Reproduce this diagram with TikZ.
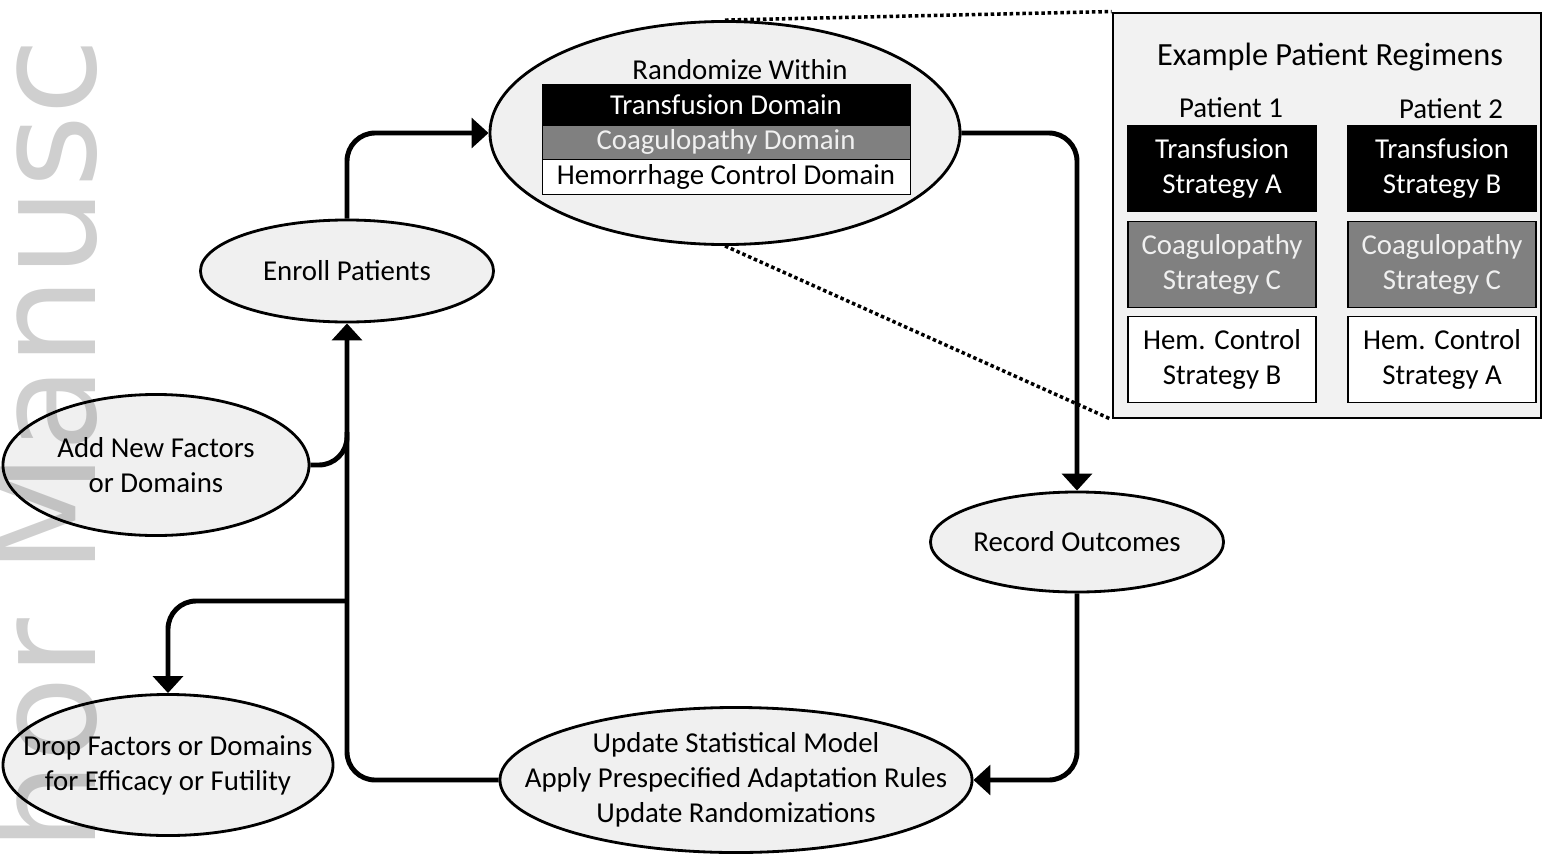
\documentclass[tikz,border=0pt]{standalone}
\usepackage{fontspec}
\setmainfont{Carlito}
\newfontfamily\wmfont{DejaVu Sans}
\usetikzlibrary{arrows.meta,shapes.geometric}

\definecolor{ellfill}{RGB}{240,240,240}
\definecolor{boxfill}{RGB}{242,242,242}
\definecolor{midgray}{RGB}{128,128,128}

\begin{document}
\begin{tikzpicture}[x=0.025cm, y=-0.025cm,
    every node/.style={font=\fontsize{20.5}{25}\selectfont},
    stage/.style={ellipse, draw, line width=2pt, fill=ellfill, inner sep=0pt},
    stagetext/.style={align=center, inner sep=0pt},
    flow/.style={line width=3.5pt, rounded corners=20pt, -{Triangle[width=21pt,length=12pt]}},
    zoomline/.style={line width=2.5pt, dash pattern=on 2.5pt off 2pt},
    domrow/.style={rectangle, draw, line width=0.6pt, minimum width=9.2cm, inner sep=0pt},
    stratbox/.style={rectangle, draw, line width=0.8pt, minimum width=4.7cm, minimum height=2.15cm, inner sep=0pt, align=center},
    darkfill/.style={fill=black, text=white},
    midfill/.style={fill=midgray, text=ellfill},
    lightfill/.style={fill=white, text=black}
    ]
    \useasboundingbox (0,0) rectangle (1543,854);
    \clip (0,0) rectangle (1543,854);

    % stages
    \node[stage, minimum width=11.75cm, minimum height=5.575cm] (rand) at (725,133) {};
    \node[stage, minimum width=7.325cm, minimum height=2.55cm] (enroll) at (347,271) {};
    \node[stagetext] (enrolltext) at (enroll) {Enroll Patients};
    \node[stage, minimum width=7.65cm, minimum height=3.525cm] (addnew) at (156,465) {};
    \node[stagetext] (addnewtext) at (addnew) {Add New Factors\\or Domains};
    \node[stage, minimum width=8.25cm, minimum height=3.525cm] (drop) at (168,765) {};
    \node[stagetext] (droptext) at (drop) {Drop Factors or Domains\\for Efficacy or Futility};
    \node[stage, minimum width=11.8cm, minimum height=3.625cm] (update) at (736,780) {};
    \node[stagetext] (updatetext) at (update) {Update Statistical Model\\Apply Prespecified Adaptation Rules\\Update Randomizations};
    \node[stage, minimum width=7.325cm, minimum height=2.5cm] (record) at (1077,542) {};
    \node[stagetext] (recordtext) at (record) {Record Outcomes};

    % domains inside the randomization step
    \node[stagetext] (within) at (740,70) {Randomize Within};
    \node[domrow, darkfill, minimum height=1.025cm] (transdom) at (726,104.5) {Transfusion Domain};
    \node[domrow, midfill, minimum height=0.85cm] (coagdom) at (726,142) {Coagulopathy Domain};
    \node[domrow, lightfill, minimum height=0.875cm] (hemdom) at (726,176.5) {Hemorrhage Control Domain};

    % zoom-out to the example regimens
    \node[rectangle, draw, line width=2pt, fill=boxfill, minimum width=10.7cm, minimum height=10.125cm, inner sep=0pt] (regbox) at (1327,215.5) {};
    \draw[zoomline] (rand.north) -- (regbox.north west);
    \draw[zoomline] (rand.south) -- (regbox.south west);
    \node[rectangle, draw, line width=2pt, fill=boxfill, minimum width=10.7cm, minimum height=10.125cm, inner sep=0pt] at (regbox) {};
    \node[font=\fontsize{23}{28}\selectfont] (regtitle) at (1330,57) {Example Patient Regimens};
    \node (pat1) at (1231,108) {Patient 1};
    \node (pat2) at (1451,109) {Patient 2};
    \node[stratbox, darkfill] (p1trans) at (1222,168.5) {Transfusion\\Strategy A};
    \node[stratbox, midfill] (p1coag) at (1222,264.5) {Coagulopathy\\Strategy C};
    \node[stratbox, lightfill] (p1hem) at (1222,359.5) {Hem. Control\\Strategy B};
    \node[stratbox, darkfill] (p2trans) at (1442,168.5) {Transfusion\\Strategy B};
    \node[stratbox, midfill] (p2coag) at (1442,264.5) {Coagulopathy\\Strategy C};
    \node[stratbox, lightfill] (p2hem) at (1442,359.5) {Hem. Control\\Strategy A};

    % the adaptive loop
    \coordinate (split) at (347,601);
    \coordinate (join) at (347,432);
    \draw[flow] (enroll.north) |- (rand.west);
    \draw[flow] (rand.east) -| (record.north);
    \draw[flow] (record.south) |- (update.east);
    \draw[flow] (update.west) -| (enroll.south);
    \draw[line width=3.5pt, rounded corners=20pt] (addnew.east) -| (join);
    \draw[flow] (split) -| (drop.north);

    % watermark
    \node[font=\wmfont\fontsize{100}{100}\selectfont, text=black, text opacity=0.19, rotate=90, anchor=base west, inner sep=0pt] (wm) at (95,852) {hor Manusc};
\end{tikzpicture}
\end{document}
